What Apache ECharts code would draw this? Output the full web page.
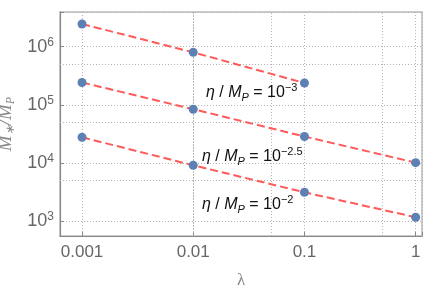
<!DOCTYPE html>
<html>
<head>
<meta charset="utf-8">
<script src="https://cdn.jsdelivr.net/npm/echarts@6/dist/echarts.min.js"></script>
<style>html,body{margin:0;padding:0;background:#fff}#c{width:436px;height:303px}</style>
</head>
<body>
<div id="c"></div>
<script>
const lambdaVals = [0.001, 0.01, 0.1, 1];
const seriesEta3 = [2.46e6, 8.0e5, 2.37e5];          // eta/M_P = 10^-3
const seriesEta25 = [2.42e5, 8.4e4, 2.85e4, 1.01e4]; // eta/M_P = 10^-2.5
const seriesEta2 = [2.76e4, 9.1e3, 3.12e3, 1.16e3];  // eta/M_P = 10^-2
const xTickLabels = ['0.001', '0.01', '0.1', '1'];
const xTickExps = [-3, -2, -1, 0];
const yTickExps = [3, 4, 5, 6];
const xMinorGrid = [0.005, 0.05, 0.5];
const yMinorGrid = [5e3, 5e4, 5e5];
const labelTexts = ['−3', '−2.5', '−2'];

const SANS = "'Liberation Sans', Arial, Helvetica, sans-serif";
const SERIF = "'Liberation Serif', 'Times New Roman', serif";
const chart = echarts.init(document.getElementById('c'), null, {renderer: 'canvas'});
const pts = arr => arr.map((v, i) => [lambdaVals[i], v]);
const gridLineStyle = {color: '#b4b4b4', type: [1, 2], width: 1};

function mkSeries(data, withGrid) {
  const s = {
    type: 'line', data: pts(data),
    symbol: 'circle', symbolSize: 9,
    itemStyle: {color: '#5E81B5'},
    lineStyle: {color: '#FF5A5A', width: 2, type: [8, 4]},
    z: 3, animation: false
  };
  if (withGrid) {
    s.markLine = {
      silent: true, symbol: 'none', label: {show: false},
      lineStyle: gridLineStyle, z: 1, animation: false,
      data: xMinorGrid.map(v => ({xAxis: v})).concat(yMinorGrid.map(v => ({yAxis: v})))
    };
  }
  return s;
}

const lab = (y, x, expTxt) => ({
  type: 'text', left: x, top: y, z: 10,
  style: {
    text: '{i|η} / {i|M}{sub|P} = 10{sup|' + expTxt + '}',
    fill: '#111',
    fontSize: 16, fontFamily: SANS,
    rich: {
      i: {fontStyle: 'italic', fontSize: 16, fontFamily: SANS, fill: '#111'},
      sub: {fontStyle: 'italic', fontSize: 11, fontFamily: SANS, fill: '#111', padding: [7, 0, 0, 0], verticalAlign: 'bottom'},
      sup: {fontSize: 11, fontFamily: SANS, fill: '#111', padding: [0, 0, 10, 0], verticalAlign: 'top'}
    }
  }
});

chart.setOption({
  animation: false,
  grid: {left: 60, right: 14, top: 12, bottom: 67, show: true, borderColor: '#bbb', borderWidth: 1.5,
         containLabel: false, outerBoundsMode: 'none'},
  xAxis: {
    type: 'log', logBase: 10,
    min: Math.pow(10, -3.198), max: Math.pow(10, 0.057),
    name: 'λ', nameLocation: 'middle', nameGap: 36,
    nameTextStyle: {fontFamily: SERIF, fontSize: 17, color: '#888'},
    axisLine: {lineStyle: {color: '#888', width: 1.2}},
    axisTick: {inside: true, length: 4, lineStyle: {color: '#888'}},
    axisLabel: {
      fontFamily: SANS, color: '#666', fontSize: 17, margin: 8,
      formatter: v => {
        const l = Math.log10(v), k = Math.round(l);
        const idx = xTickExps.indexOf(k);
        return (Math.abs(l - k) < 1e-6 && idx >= 0) ? xTickLabels[idx] : '';
      }
    },
    splitLine: {show: true, lineStyle: gridLineStyle}
  },
  yAxis: {
    type: 'log', logBase: 10,
    min: Math.pow(10, 2.742), max: Math.pow(10, 6.597),
    name: '{i|M}{sub|∗}{s|/}{i|M}{sub|P}', nameLocation: 'middle', nameGap: 38, nameRotate: 90,
    nameTextStyle: {
      color: '#888', fontSize: 19, fontFamily: SERIF,
      rich: {
        i: {fontStyle: 'italic', fontSize: 19, fontFamily: SERIF, color: '#888'},
        s: {fontStyle: 'italic', fontSize: 19, fontFamily: SERIF, color: '#888'},
        sub: {fontStyle: 'italic', fontSize: 12, fontFamily: SERIF, color: '#888', padding: [8, 0, 0, 0], verticalAlign: 'bottom'}
      }
    },
    axisLine: {show: true, lineStyle: {color: '#888', width: 1.2}},
    axisTick: {inside: true, length: 4, lineStyle: {color: '#888'}},
    axisLabel: {
      color: '#666', fontFamily: SANS, fontSize: 17, margin: 6,
      formatter: v => {
        const l = Math.log10(v), k = Math.round(l);
        if (Math.abs(l - k) > 1e-6 || yTickExps.indexOf(k) < 0) return '';
        return '{b|10}{sup|' + k + '}';
      },
      rich: {
        b: {fontFamily: SANS, color: '#666', fontSize: 18},
        sup: {fontFamily: SANS, color: '#666', fontSize: 12, padding: [0, 0, 9, 0], verticalAlign: 'top'}
      }
    },
    splitLine: {show: true, lineStyle: gridLineStyle}
  },
  series: [mkSeries(seriesEta3, true), mkSeries(seriesEta25, false), mkSeries(seriesEta2, false)],
  graphic: [lab(82, 206, labelTexts[0]), lab(146, 202, labelTexts[1]), lab(194, 202, labelTexts[2])]
});
</script>
</body>
</html>
